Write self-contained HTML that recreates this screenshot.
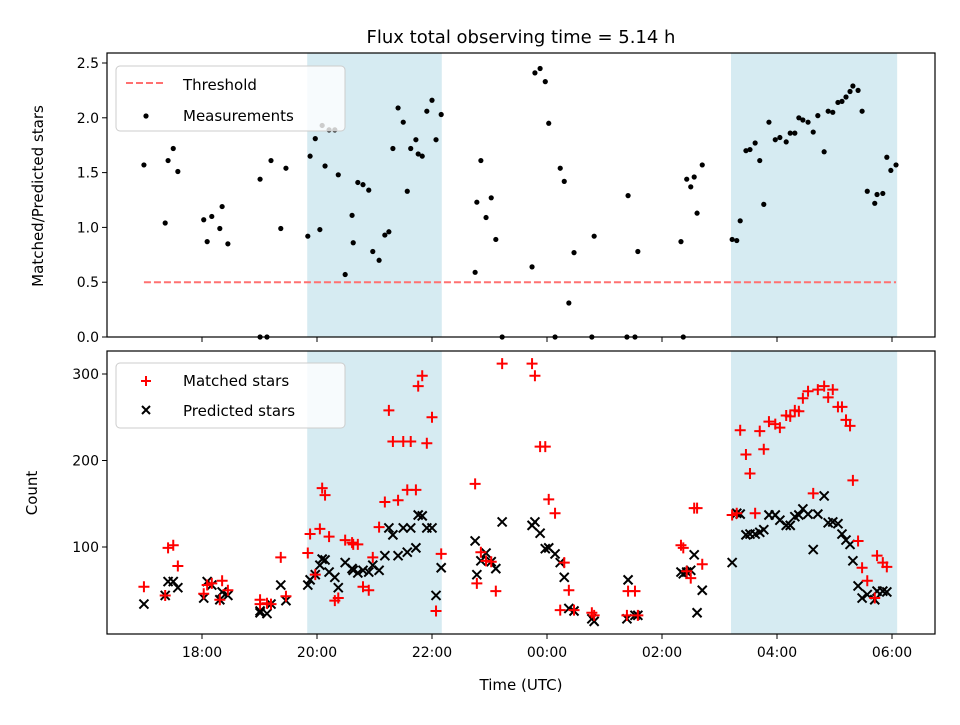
<!DOCTYPE html>
<html><head><meta charset="utf-8"><style>
body{margin:0;background:#fff;}
svg text{font-family:"DejaVu Sans","Liberation Sans",sans-serif;fill:#000;}
</style></head><body>
<svg id="chart" width="960" height="720" xmlns="http://www.w3.org/2000/svg"></svg>
<script>
const hours=[16.99,17.36,17.41,17.50,17.58,18.03,18.09,18.17,18.31,18.35,18.45,19.01,19.01,19.13,19.20,19.37,19.46,19.84,19.88,19.97,20.05,20.09,20.14,20.21,20.31,20.37,20.49,20.61,20.63,20.71,20.80,20.90,20.97,21.08,21.18,21.25,21.32,21.41,21.50,21.57,21.63,21.72,21.76,21.83,21.91,22.00,22.07,22.16,22.75,22.78,22.85,22.94,23.03,23.11,23.22,23.74,23.79,23.88,23.97,24.03,24.14,24.23,24.30,24.38,24.47,24.78,24.82,25.39,25.41,25.53,25.58,26.33,26.37,26.43,26.50,26.56,26.61,26.70,27.22,27.30,27.36,27.46,27.53,27.62,27.70,27.77,27.86,27.97,28.05,28.16,28.23,28.31,28.38,28.45,28.54,28.63,28.71,28.82,28.89,28.97,29.06,29.13,29.20,29.27,29.32,29.41,29.48,29.57,29.70,29.74,29.84,29.91,29.98,30.07];
const ratio=[1.57,1.04,1.61,1.72,1.51,1.07,0.87,1.10,0.99,1.19,0.85,1.44,0,0,1.61,0.99,1.54,0.92,1.65,1.81,0.98,1.93,1.56,1.89,1.89,1.48,0.57,1.11,0.86,1.41,1.39,1.34,0.78,0.70,0.93,0.96,1.72,2.09,1.96,1.33,1.72,1.80,1.67,1.65,2.06,2.16,1.80,2.03,0.59,1.23,1.61,1.09,1.27,0.89,0,0.64,2.41,2.45,2.33,1.95,0,1.54,1.42,0.31,0.77,0,0.92,0,1.29,0,0.78,0.87,0,1.44,1.37,1.46,1.13,1.57,0.89,0.88,1.06,1.70,1.71,1.77,1.61,1.21,1.96,1.80,1.82,1.78,1.86,1.86,2.00,1.98,1.96,1.87,2.02,1.69,2.06,2.05,2.14,2.15,2.19,2.24,2.29,2.25,2.06,1.33,1.22,1.30,1.31,1.64,1.52,1.57];
const matched=[54,44,99,102,78,46,56,58,39,61,50,39,34,35,34,88,43,93,115,68,121,168,160,112,38,41,108,105,103,103,54,50,88,123,152,258,222,154,222,166,222,166,286,298,220,250,26,92,173,58,94,84,83,49,312,312,298,216,216,155,139,27,82,50,27,24,21,21,49,49,21,102,99,72,64,145,145,80,137,139,235,207,185,139,234,213,245,242,238,252,251,258,257,272,280,162,282,286,273,282,262,262,247,240,177,107,76,61,41,90,82,77];
const predicted=[34,44,60,60,53,41,60,56,39,48,44,26,24,23,34,56,38,56,62,68,79,86,85,71,65,53,82,75,73,70,73,71,79,73,90,122,114,90,122,94,122,99,137,136,122,122,44,76,107,68,84,93,83,75,129,125,129,116,98,99,92,82,65,29,26,17,14,17,62,21,21,71,69,71,73,91,24,50,82,139,138,114,115,115,117,120,137,137,131,125,125,135,137,144,138,97,138,159,128,129,127,115,108,103,84,55,41,45,39,49,49,48];
const xTickVals=[18,20,22,24,26,28,30];
const xTickLabels=["18:00","20:00","22:00","00:00","02:00","04:00","06:00"];
const topTicks=[0,0.5,1.0,1.5,2.0,2.5];
const botTicks=[100,200,300];
const spans=[[19.83,22.17],[27.2,30.09]];
const threshold=[16.99,30.07,0.5];

const NS="http://www.w3.org/2000/svg";
const svg=document.getElementById('chart');
function el(t,a,p){const e=document.createElementNS(NS,t);for(const k in a)e.setAttribute(k,a[k]);(p||svg).appendChild(e);return e;}
const L=107,R=935,T1=53,B1=337,T2=351,B2=634;
const x=h=>202+(h-18)*57.5;
const y1=v=>337-v*109.6;
const y2=c=>633.5-c*0.865;

let t=el('text',{x:521,y:43,'text-anchor':'middle','font-size':'18'});t.textContent='Flux total observing time = 5.14 h';


spans.forEach((s,i)=>{[[T1,B1],[T2,B2]].forEach(([a,b],j)=>{
 const r=el('rect',{x:x(s[0]),y:a,width:x(s[1])-x(s[0]),height:b-a,fill:'#add8e6','fill-opacity':'0.5'});
 });});

const th=el('line',{x1:x(threshold[0]),x2:x(threshold[1]),y1:y1(threshold[2]),y2:y1(threshold[2]),stroke:'#ff7070','stroke-width':2,'stroke-dasharray':'7,3'});


hours.forEach((h,i)=>{const c=el('circle',{cx:x(h),cy:y1(ratio[i]),r:2.6,fill:'#000'});
 });
hours.forEach((h,i)=>{const cx=x(h),cy=y2(predicted[i]),d=4.5;
 const p=el('path',{d:`M${cx-d},${cy-d}L${cx+d},${cy+d}M${cx-d},${cy+d}L${cx+d},${cy-d}`,stroke:'#000','stroke-width':2});
 });
hours.forEach((h,i)=>{const cx=x(h),cy=y2(matched[i]),d=5.5;
 const p=el('path',{d:`M${cx-d},${cy}L${cx+d},${cy}M${cx},${cy-d}L${cx},${cy+d}`,stroke:'#ff0000','stroke-width':2});
 });

[[T1,B1,'top-axes-frame'],[T2,B2,'bottom-axes-frame']].forEach(([a,b,n])=>{
 const r=el('rect',{x:L,y:a,width:R-L,height:b-a,fill:'none',stroke:'#000','stroke-width':1.2});
 });

xTickVals.forEach((v,i)=>{[B1,B2].forEach(b=>{el('line',{x1:x(v),x2:x(v),y1:b,y2:b+5,stroke:'#000','stroke-width':1});});
 const tx=el('text',{x:x(v),y:B2+23,'text-anchor':'middle','font-size':'14'});tx.textContent=xTickLabels[i];
 });
topTicks.forEach(v=>{el('line',{x1:L-5,x2:L,y1:y1(v),y2:y1(v),stroke:'#000'});
 const tx=el('text',{x:L-8,y:y1(v)+5,'text-anchor':'end','font-size':'14'});tx.textContent=v.toFixed(1);
 });
botTicks.forEach(v=>{el('line',{x1:L-5,x2:L,y1:y2(v),y2:y2(v),stroke:'#000'});
 const tx=el('text',{x:L-8,y:y2(v)+5,'text-anchor':'end','font-size':'14'});tx.textContent=v;
 });

t=el('text',{x:521,y:690,'text-anchor':'middle','font-size':'15'});t.textContent='Time (UTC)';

t=el('text',{x:0,y:0,'text-anchor':'middle','font-size':'15',transform:'translate(43,196) rotate(-90)'});t.textContent='Matched/Predicted stars';

t=el('text',{x:0,y:0,'text-anchor':'middle','font-size':'15',transform:'translate(37,493) rotate(-90)'});t.textContent='Count';


function legend(y0,name){const g=el('g',{});
 el('rect',{x:116,y:y0,width:229,height:65,rx:4,fill:'#fff','fill-opacity':0.8,stroke:'#ccc'},g);return g;}
let g=legend(66,'top-legend');
el('line',{x1:126,x2:166,y1:83,y2:83,stroke:'#ff7070','stroke-width':2,'stroke-dasharray':'7,3'},g);
t=el('text',{x:183,y:90,'font-size':'15'},g);t.textContent='Threshold';
el('circle',{cx:146,cy:116,r:2.6,fill:'#000'},g);
t=el('text',{x:183,y:121,'font-size':'15'},g);t.textContent='Measurements';
g=legend(363,'bottom-legend');
el('path',{d:'M141,381L151,381M146,376L146,386',stroke:'#f00','stroke-width':2},g);
t=el('text',{x:183,y:386,'font-size':'15'},g);t.textContent='Matched stars';
el('path',{d:'M142,406L150,414M142,414L150,406',stroke:'#000','stroke-width':2},g);
t=el('text',{x:183,y:416,'font-size':'15'},g);t.textContent='Predicted stars';
</script>
</body></html>
